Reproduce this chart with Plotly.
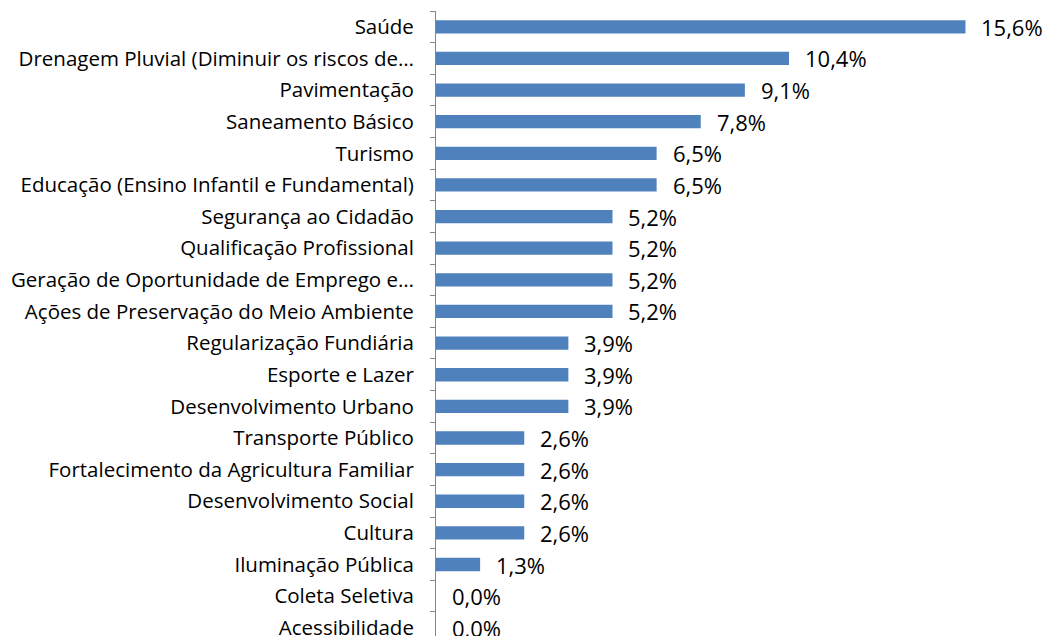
import plotly.graph_objects as go

categories = [
    "Saúde",
    "Drenagem Pluvial (Diminuir os riscos de…",
    "Pavimentação",
    "Saneamento Básico",
    "Turismo",
    "Educação (Ensino Infantil e Fundamental)",
    "Segurança ao Cidadão",
    "Qualificação Profissional",
    "Geração de Oportunidade de Emprego e…",
    "Ações de Preservação do Meio Ambiente",
    "Regularização Fundiária",
    "Esporte e Lazer",
    "Desenvolvimento Urbano",
    "Transporte Público",
    "Fortalecimento da Agricultura Familiar",
    "Desenvolvimento Social",
    "Cultura",
    "Iluminação Pública",
    "Coleta Seletiva",
    "Acessibilidade",
]
values = [15.6, 10.4, 9.1, 7.8, 6.5, 6.5, 5.2, 5.2, 5.2, 5.2,
          3.9, 3.9, 3.9, 2.6, 2.6, 2.6, 2.6, 1.3, 0.0, 0.0]
labels = [f"{v:.1f}%".replace(".", ",") for v in values]

FONT = "Open Sans"

fig = go.Figure(go.Bar(
    x=values, y=categories, orientation="h",
    marker=dict(color="#4F81BD", line=dict(width=0)),
    width=0.42,
))

for c, v, t in zip(categories, values, labels):
    fig.add_annotation(x=v, y=c, text=t, showarrow=False, xanchor="left",
                       xshift=14, font=dict(family=FONT, size=22, color="#000000"))

fig.update_layout(
    width=1043, height=628,
    margin=dict(l=428, r=37.5, t=3, b=0, autoexpand=False),
    paper_bgcolor="white", plot_bgcolor="white",
    showlegend=False,
    xaxis=dict(range=[0, 17], visible=False, showgrid=False, zeroline=False),
    yaxis=dict(
        type="category", categoryorder="array", categoryarray=categories,
        range=[19.26, -0.5], autorange=False, automargin=False,
        showline=True, linecolor="#868686", linewidth=1,
        ticks="outside", ticklen=5, tickcolor="#868686", tickson="boundaries",
        ticklabelstandoff=17,
        tickfont=dict(family=FONT, size=20.5, color="#000000"),
        showgrid=False, zeroline=False,
    ),
)

fig.write_html("out.html")
